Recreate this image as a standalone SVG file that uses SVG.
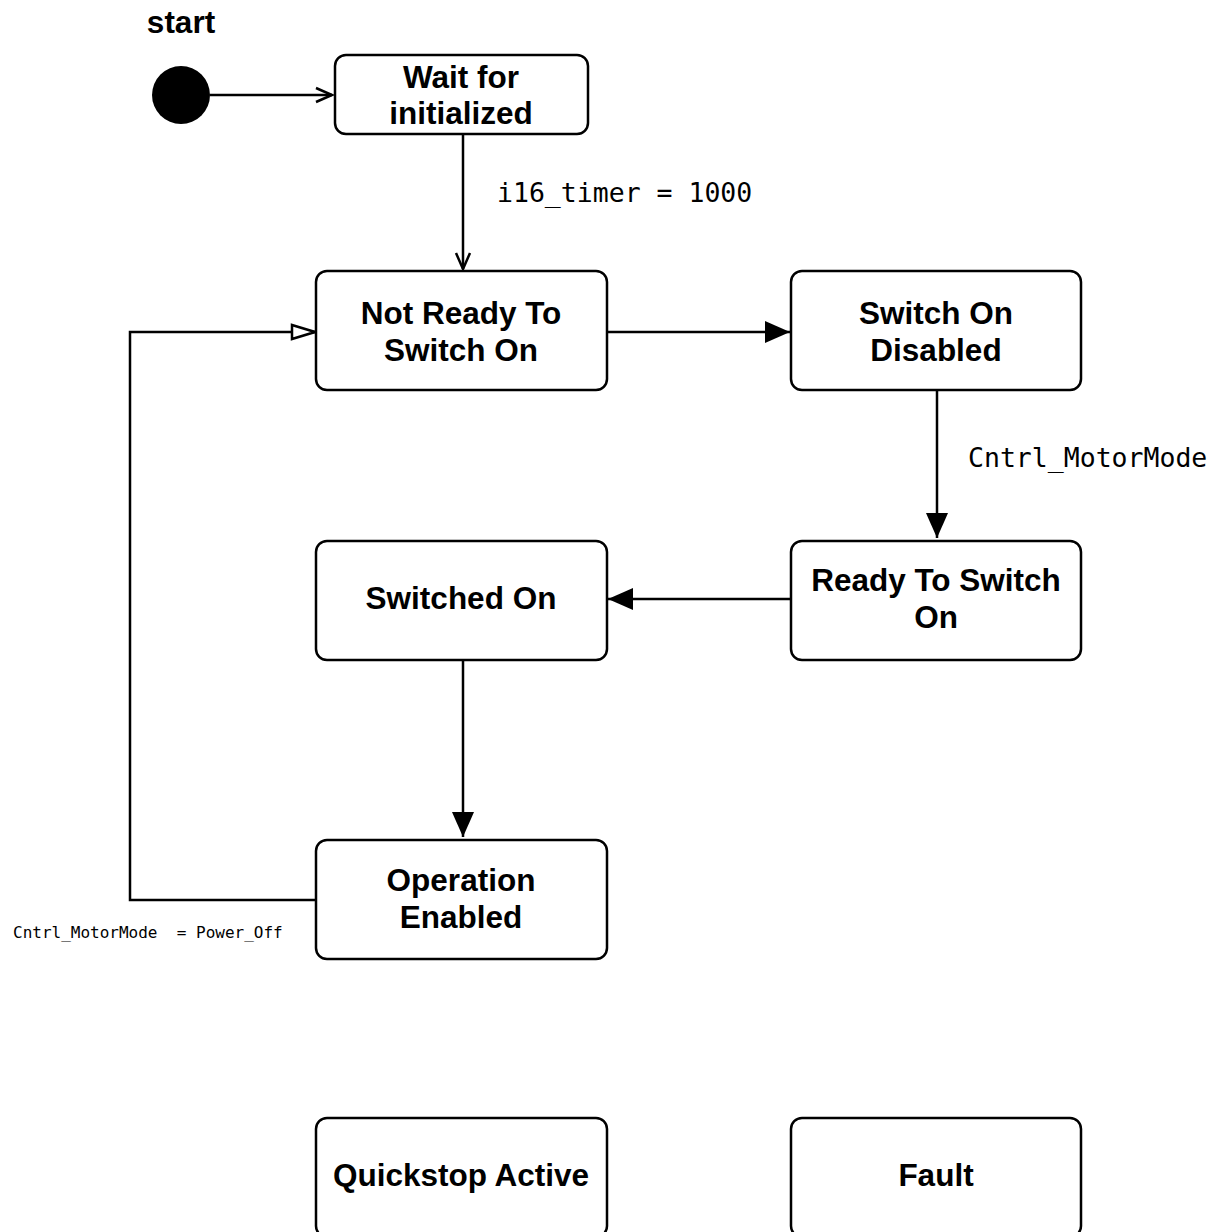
<svg xmlns="http://www.w3.org/2000/svg" width="1214" height="1232" viewBox="0 0 1214 1232">
<style>
.box{fill:#fff;stroke:#000;stroke-width:2.5}
.t{font-family:"Liberation Sans",Arial,sans-serif;font-weight:bold;font-size:31.5px;text-anchor:middle;fill:#000}
.m{font-family:"DejaVu Sans Mono","Liberation Mono",monospace;fill:#000;white-space:pre}
.c{fill:none;stroke:#000;stroke-width:2.5}
</style>
<defs>
<marker id="open" markerWidth="20" markerHeight="20" refX="18" refY="10" orient="auto" markerUnits="userSpaceOnUse">
<path d="M2,3 L18,10 L2,17" fill="none" stroke="#000" stroke-width="2.5"/>
</marker>
<marker id="fill" markerWidth="28" markerHeight="26" refX="26" refY="13" orient="auto" markerUnits="userSpaceOnUse">
<path d="M1,2 L26,13 L1,24 Z" fill="#000"/>
</marker>
<marker id="hollow" markerWidth="28" markerHeight="22" refX="25" refY="11" orient="auto" markerUnits="userSpaceOnUse">
<path d="M2,4 L25,11 L2,18 Z" fill="#fff" stroke="#000" stroke-width="2.5"/>
</marker>
</defs>
<rect width="1214" height="1232" fill="#fff"/>
<text class="t" x="181" y="33">start</text>
<g id="connectors">
<line class="c" x1="210" y1="95" x2="332" y2="95" marker-end="url(#open)"/>
<line class="c" x1="463" y1="134" x2="463" y2="269" marker-end="url(#open)"/>
<line class="c" x1="607" y1="332" x2="790" y2="332" marker-end="url(#fill)"/>
<line class="c" x1="937" y1="390" x2="937" y2="538" marker-end="url(#fill)"/>
<line class="c" x1="791" y1="599" x2="608" y2="599" marker-end="url(#fill)"/>
<line class="c" x1="463" y1="658" x2="463" y2="837" marker-end="url(#fill)"/>
<polyline class="c" points="316,900 130,900 130,332 315,332" marker-end="url(#hollow)"/>
<text class="m" x="497" y="202" font-size="26.5">i16_timer = 1000</text>
<text class="m" x="968" y="467" font-size="26.5">Cntrl_MotorMode</text>
<text class="m" x="13" y="938" font-size="16" xml:space="preserve">Cntrl_MotorMode  = Power_Off</text>
</g>
<g id="start"><circle cx="181" cy="95" r="29" fill="#000"/></g>
<g id="wait"><rect class="box" x="335" y="55" width="253" height="79" rx="11"/><text class="t" x="461" y="88">Wait for</text><text class="t" x="461" y="124">initialized</text></g>
<g id="notready"><rect class="box" x="316" y="271" width="291" height="119" rx="11"/><text class="t" x="461" y="324">Not Ready To</text><text class="t" x="461" y="361">Switch On</text></g>
<g id="sod"><rect class="box" x="791" y="271" width="290" height="119" rx="11"/><text class="t" x="936" y="324">Switch On</text><text class="t" x="936" y="361">Disabled</text></g>
<g id="rtso"><rect class="box" x="791" y="541" width="290" height="119" rx="11"/><text class="t" x="936" y="591">Ready To Switch</text><text class="t" x="936" y="628">On</text></g>
<g id="switchedon"><rect class="box" x="316" y="541" width="291" height="119" rx="11"/><text class="t" x="461" y="609">Switched On</text></g>
<g id="openabled"><rect class="box" x="316" y="840" width="291" height="119" rx="11"/><text class="t" x="461" y="891">Operation</text><text class="t" x="461" y="928">Enabled</text></g>
<g id="quickstop"><rect class="box" x="316" y="1118" width="291" height="119" rx="11"/><text class="t" x="461" y="1186">Quickstop Active</text></g>
<g id="fault"><rect class="box" x="791" y="1118" width="290" height="119" rx="11"/><text class="t" x="936" y="1186">Fault</text></g>
</svg>
